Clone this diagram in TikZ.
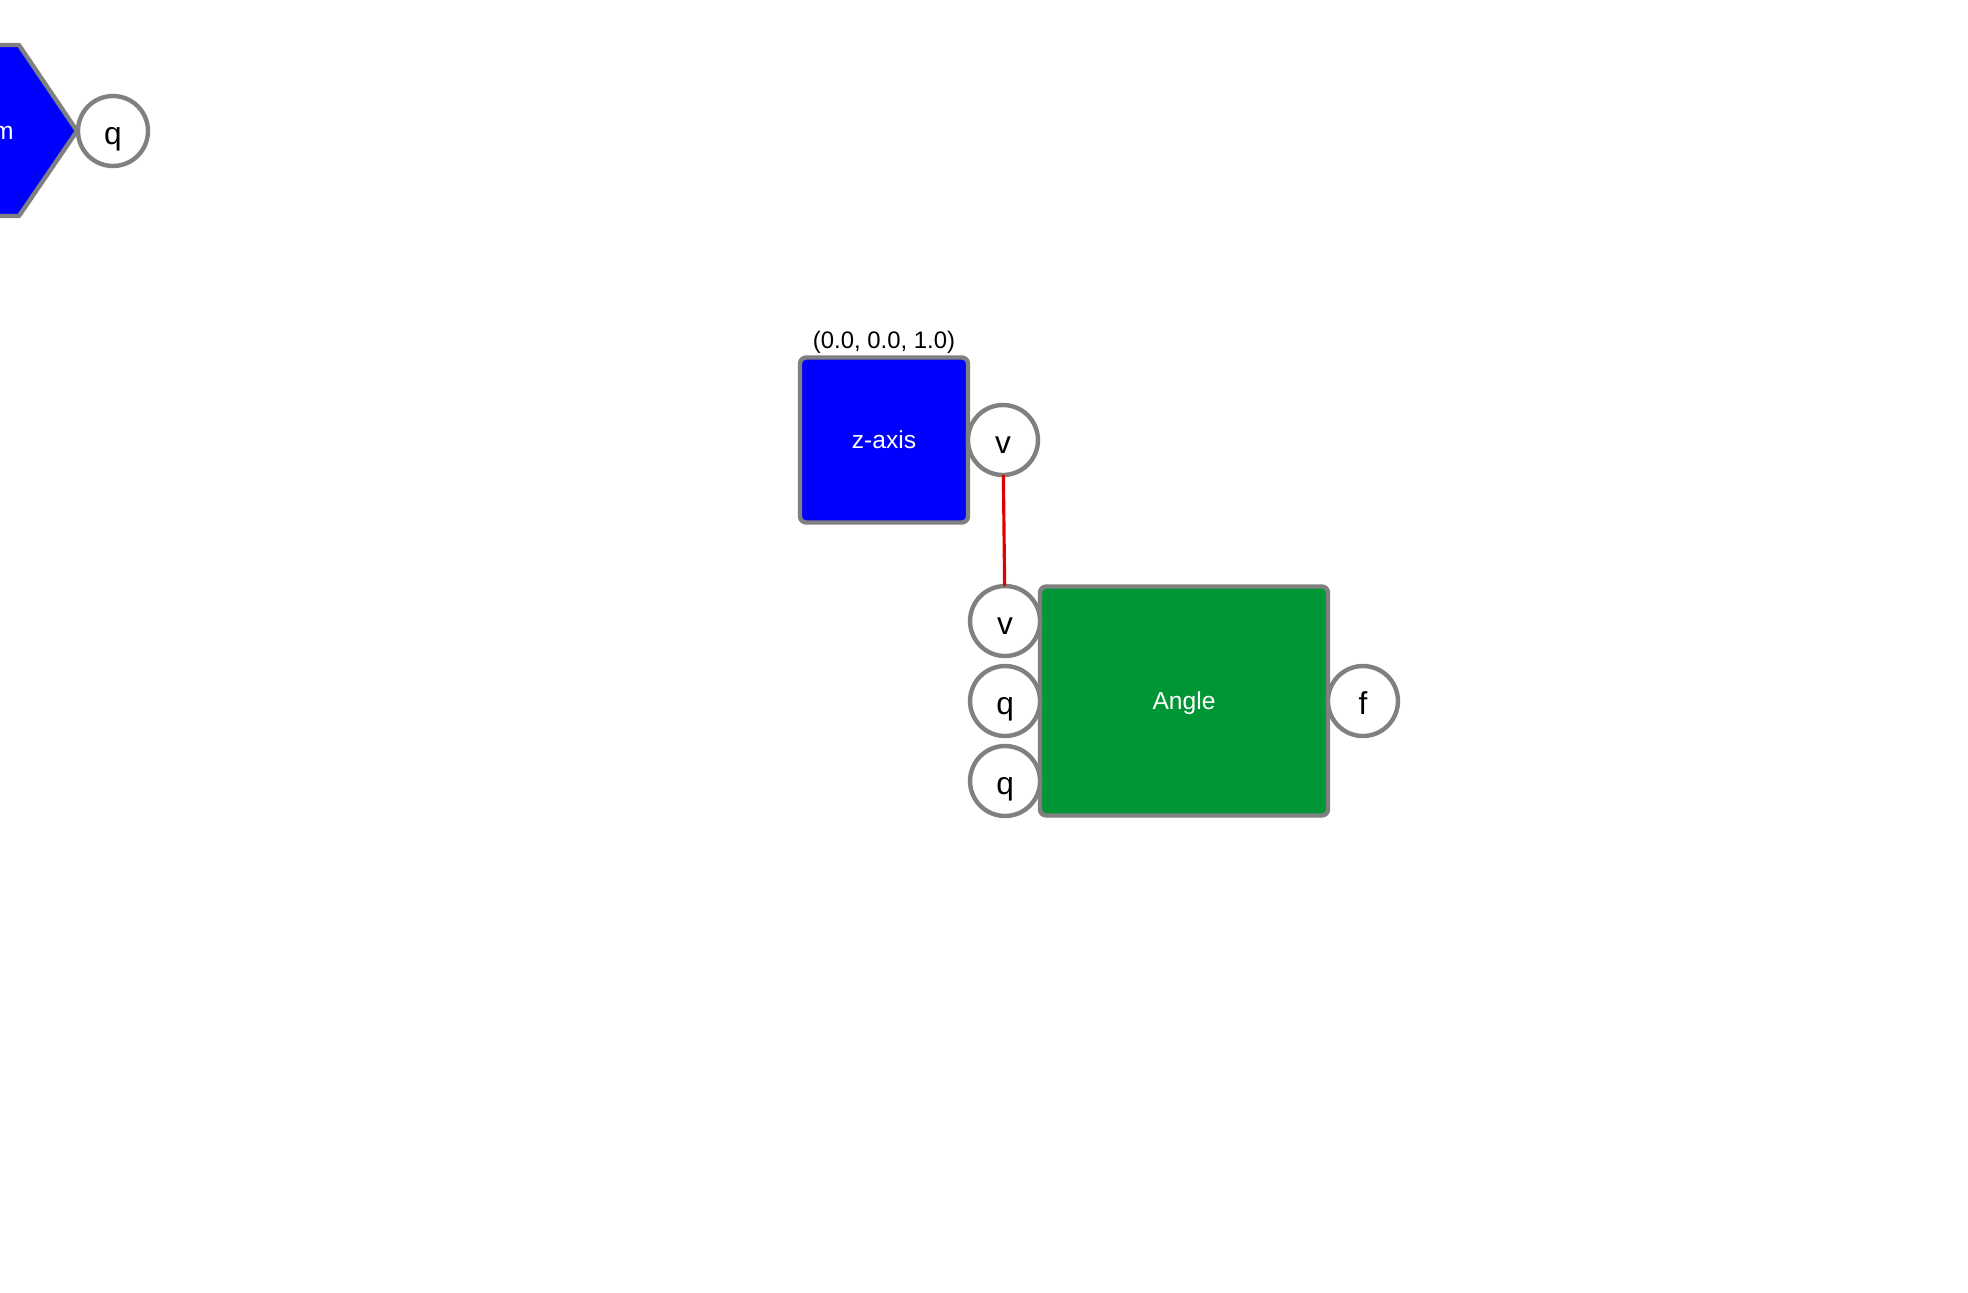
\documentclass[tikz,border=0pt]{standalone}
\usepackage{fontspec}
\setmainfont{Liberation Sans}
\usepackage{tikz}
\usetikzlibrary{positioning}
\definecolor{blockblue}{RGB}{0,0,255}
\definecolor{blockgreen}{RGB}{0,150,54}
\definecolor{portgray}{RGB}{128,128,128}
\definecolor{linkred}{RGB}{225,0,0}

\begin{document}
\begin{tikzpicture}[
x=0.02cm, y=-0.02cm,
block/.style={draw=portgray, line width=2.5pt, rounded corners=3.5pt, text=white,
  font=\fontsize{14}{16}\selectfont, inner sep=0pt, outer sep=0pt,
  text height=9.8pt, text depth=0pt},
port/.style={circle, draw=portgray, line width=2.5pt, fill=white, minimum size=1.4cm,
  inner sep=0pt, outer sep=0pt, text height=15.5pt, text depth=0pt,
  font=\fontsize{18}{20}\selectfont},
link/.style={draw=linkred, line width=1.8pt}
]
    % Canvas
    \useasboundingbox (0,0) rectangle (1968,1292);
    \clip (0,0) rectangle (1968,1292);

    % Cut-off block at the top left
    \draw [fill=blockblue, draw=portgray, line width=2.5pt, line join=round]
        (-150,45) -- (19,45) -- (77,131) -- (19,216) -- (-150,216) -- cycle;
    \node (hexname) [anchor=east, text=white, font=\fontsize{14}{16}\selectfont,
        inner sep=0pt] at (14,133) {m};
    \node (hexq) [port] at (113,131) {q};

    % z-axis block
    \node (zaxis) [block, fill=blockblue, minimum width=3.36cm, minimum height=3.3cm]
        at (884,440) {z-axis};
    \node (zlabel) [above=1pt of zaxis, inner sep=1pt,
        font=\fontsize{13.6}{16}\selectfont] {(0.0, 0.0, 1.0)};
    \node (zv) [port, right=0pt of zaxis] {v};

    % Angle block
    \node (angle) [block, fill=blockgreen, minimum width=5.76cm, minimum height=4.58cm]
        at (1184,701) {Angle};
    \node (angq1) [port, left=0pt of angle] {q};
    \node (angv) [port, above=0.2cm of angq1] {v};
    \node (angq2) [port, below=0.2cm of angq1] {q};
    \node (angf) [port, right=0pt of angle] {f};

    \draw [link] (zv) -- (angv);

\end{tikzpicture}
\end{document}
